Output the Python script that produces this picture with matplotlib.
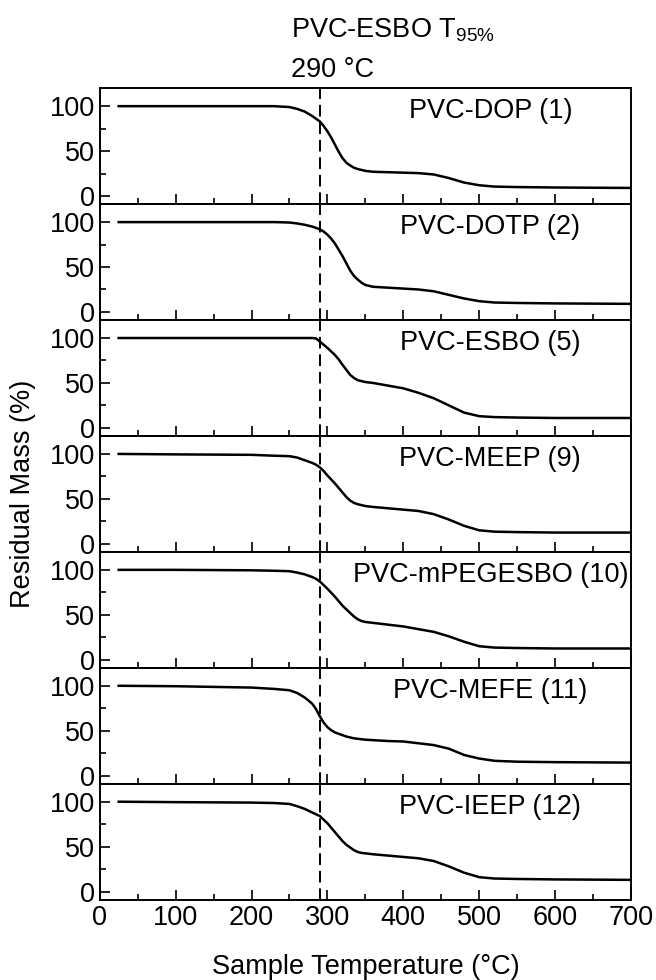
import matplotlib
matplotlib.use("Agg")
import matplotlib.pyplot as plt
from matplotlib.ticker import MultipleLocator

plt.rcParams["font.family"] = ["Liberation Sans", "DejaVu Sans"]
plt.rcParams["mathtext.fontset"] = "custom"
plt.rcParams["mathtext.rm"] = "Liberation Sans"

# temperature grid the curves were read at (deg C)
temp = [25, 100, 200, 230, 250, 260, 270, 280, 285, 290, 295, 300, 305, 310,
        315, 320, 325, 330, 335, 340, 345, 350, 360, 380, 400, 420, 440, 460,
        480, 500, 520, 550, 600, 700]

labels = ["PVC-DOP (1)", "PVC-DOTP (2)", "PVC-ESBO (5)", "PVC-MEEP (9)",
          "PVC-mPEGESBO (10)", "PVC-MEFE (11)", "PVC-IEEP (12)"]

dop = [100, 100, 100, 100, 99, 97, 94, 89, 86, 83, 78, 72, 65, 57,
       49, 42, 37, 34, 31.5, 30, 29, 28, 27, 26.5, 26, 25.5, 24, 20,
       15, 12, 10.5, 10, 9.5, 9]
dotp = [100, 100, 100, 100, 99.5, 98.5, 97, 95, 93.5, 92, 89.5, 86, 81.5, 76,
        69, 62, 54, 46, 40, 36, 32.5, 30, 28, 27, 26, 25, 23, 19,
        15, 12, 10.5, 10, 9.5, 9]
esbo = [100, 100, 100, 100, 100, 100, 100, 100, 99.5, 96, 92.5, 89, 85, 81,
        76, 70, 64.5, 59, 55.5, 53, 52, 51, 50, 47, 44, 39, 33, 25,
        17, 13, 12, 11.5, 11, 11]
meep = [100, 99.5, 99, 98, 97.5, 96, 93, 90, 88, 85, 81, 76, 71.5, 67,
        62, 57, 52, 48, 45.5, 44, 43, 42, 41, 39.5, 38, 36.5, 33, 27,
        20, 15, 13.5, 13, 12.5, 12.5]
mpegesbo = [100, 100, 99.5, 99, 98.5, 97, 95, 92, 90, 87, 83, 79, 74.5, 70,
            65, 60, 56, 52, 48, 45, 43, 42, 41, 39, 37, 34, 31, 26,
            20, 15, 13.5, 13, 12.5, 12.5]
mefe = [100, 99.5, 98, 96.5, 95, 92, 87, 80, 74, 66, 59, 54, 50.5, 48,
        46.5, 45, 43.5, 42.5, 41.5, 41, 40.5, 40, 39.5, 38.5, 38, 36, 34, 30,
        23, 19, 16.5, 15.5, 15, 14.5]
ieep = [100, 99.5, 99, 98.5, 97.5, 95, 92, 88, 86, 84, 80, 76, 71, 66,
        61, 56, 52, 49, 46, 44, 43, 42.5, 41.5, 40, 38.5, 37, 34, 28,
        21, 16, 14.5, 14, 13.5, 13]

series = [dop, dotp, esbo, meep, mpegesbo, mefe, ieep]
t95 = 290

FS = 19.5

fig, axes = plt.subplots(7, 1, figsize=(6.56, 9.8), dpi=100, sharex=True)
fig.subplots_adjust(left=0.152, right=0.962, top=0.910, bottom=0.082, hspace=0)

for ax, y, lbl in zip(axes, series, labels):
    ax.plot(temp, y, color="black", lw=1.8, solid_joinstyle="round")
    ax.axvline(t95, color="black", lw=1.4, ls=(0, (6, 3)))
    ax.set_xlim(0, 700)
    ax.set_ylim(-9, 120)
    ax.yaxis.set_major_locator(MultipleLocator(50))
    ax.yaxis.set_minor_locator(MultipleLocator(25))
    ax.xaxis.set_major_locator(MultipleLocator(100))
    ax.xaxis.set_minor_locator(MultipleLocator(50))
    ax.tick_params(which="both", direction="in", labelsize=FS, width=1.2,
                   top=False, right=False)
    ax.tick_params(which="major", length=7)
    ax.tick_params(which="minor", length=4)
    for s in ax.spines.values():
        s.set_linewidth(1.4)
    ax.text(0.735, 0.8, lbl, transform=ax.transAxes, ha="center", va="center",
            fontsize=FS)

axes[-1].set_xlabel("Sample Temperature (°C)", fontsize=FS, labelpad=17)
fig.text(0.035, (0.910 + 0.082) / 2, "Residual Mass (%)", rotation=90,
         ha="center", va="center", fontsize=FS)

fig.text(291 / 656, 1 - 30 / 980, r"PVC-ESBO T$_{95\%}$", ha="left",
         va="center", fontsize=FS)
fig.text(291 / 656, 1 - 70 / 980, "290 °C", ha="left", va="center", fontsize=FS)

fig.savefig("out.png", dpi=100)
